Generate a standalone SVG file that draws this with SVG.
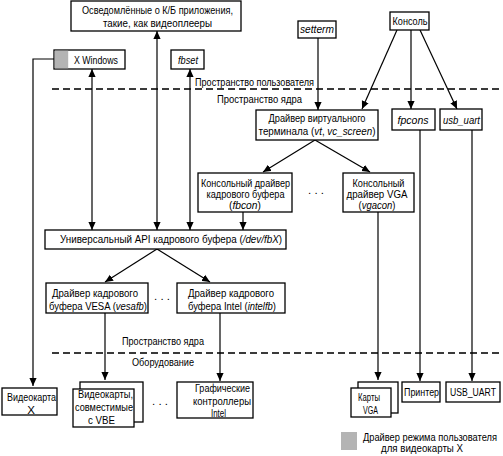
<svg xmlns="http://www.w3.org/2000/svg" width="503" height="456" viewBox="0 0 503 456">
<defs>
<marker id="ah" viewBox="0 0 10 10" refX="10" refY="5" markerWidth="8" markerHeight="8" orient="auto-start-reverse" markerUnits="userSpaceOnUse"><path d="M0,0.5 L10,5 L0,9.5 z" fill="#000"/></marker>
<style>
text{font-family:"Liberation Sans",Arial,sans-serif;font-size:11.5px;fill:#000;text-anchor:middle}
.i{font-style:italic}
.l{text-anchor:start}
.b{fill:#fff;stroke:#000;stroke-width:1.3}
.c line,.c polyline{stroke:#000;stroke-width:1.2;fill:none}
.a{marker-end:url(#ah)}
.d{marker-start:url(#ah);marker-end:url(#ah)}
.dash{stroke:#3a3a3a;stroke-width:2;stroke-dasharray:7 4}
</style>
</defs>
<rect width="503" height="456" fill="#fff"/>
<line class="dash" x1="52" y1="89" x2="501" y2="89"/>
<line class="dash" x1="52" y1="353" x2="501" y2="353"/>
<text class="l" x="195" y="86" textLength="119" lengthAdjust="spacingAndGlyphs">Пространство пользователя</text>
<text class="l" x="217" y="103" textLength="85" lengthAdjust="spacingAndGlyphs">Пространство ядра</text>
<text x="163" y="345" textLength="82" lengthAdjust="spacingAndGlyphs">Пространство ядра</text>
<text x="163" y="366" textLength="62" lengthAdjust="spacingAndGlyphs">Оборудование</text>
<g class="c">
<line class="d" x1="92" y1="69" x2="92" y2="230"/>
<line class="d" x1="157" y1="31" x2="157" y2="230"/>
<line class="d" x1="190" y1="69" x2="190" y2="230"/>
<line class="a" x1="318" y1="38" x2="318" y2="110"/>
<line class="a" x1="397" y1="30" x2="362" y2="109"/>
<line class="a" x1="411" y1="30" x2="411" y2="109"/>
<line class="a" x1="420" y1="30" x2="457" y2="109"/>
<line class="a" x1="315" y1="140" x2="263" y2="172"/>
<line class="a" x1="315" y1="140" x2="370" y2="172"/>
<line class="a" x1="243" y1="212" x2="243" y2="230"/>
<line class="a" x1="157" y1="249" x2="105" y2="282"/>
<line class="a" x1="157" y1="249" x2="210" y2="282"/>
<line class="a" x1="105" y1="313" x2="105" y2="380"/>
<line class="a" x1="220" y1="313" x2="220" y2="381"/>
<polyline class="a" points="54,59 33,59 33,386"/>
<line class="a" x1="378" y1="212" x2="378" y2="380"/>
<line class="a" x1="420" y1="130" x2="420" y2="381"/>
<line class="a" x1="472" y1="130" x2="472" y2="381"/>
</g>
<g id="apps"><rect class="b" x="71" y="1" width="170" height="30"/><text x="157.5" y="14" textLength="151" lengthAdjust="spacingAndGlyphs">Осведомлённые о К/Б приложения,</text><text x="157.5" y="27" textLength="109" lengthAdjust="spacingAndGlyphs">такие, как видеоплееры</text></g>
<g id="xwindows"><rect class="b" x="54" y="50" width="71" height="19"/><rect x="54.7" y="50.7" width="13.5" height="17.6" fill="#b4b4b4"/><text x="96" y="64" textLength="44" lengthAdjust="spacingAndGlyphs">X Windows</text></g>
<g id="fbset"><rect class="b" x="171" y="50" width="33" height="19"/><text class="i" x="188" y="64" textLength="20" lengthAdjust="spacingAndGlyphs">fbset</text></g>
<g id="setterm"><rect class="b" x="298" y="21" width="38" height="17"/><text class="i" x="317" y="33" textLength="34" lengthAdjust="spacingAndGlyphs">setterm</text></g>
<g id="console"><rect class="b" x="390" y="12" width="39" height="18"/><text x="410" y="25" textLength="35" lengthAdjust="spacingAndGlyphs">Консоль</text></g>
<g id="vt"><rect class="b" x="256" y="110" width="122" height="30"/><text x="317" y="122" textLength="97" lengthAdjust="spacingAndGlyphs">Драйвер виртуального</text><text x="317" y="135" textLength="117" lengthAdjust="spacingAndGlyphs">терминала (<tspan class="i">vt</tspan>, <tspan class="i">vc_screen</tspan>)</text></g>
<g id="fpcons"><rect class="b" x="392" y="109" width="43" height="21"/><text class="i" x="413" y="124" textLength="31" lengthAdjust="spacingAndGlyphs">fpcons</text></g>
<g id="usbuart"><rect class="b" x="440" y="109" width="42" height="21"/><text class="i" x="461.5" y="124" textLength="37" lengthAdjust="spacingAndGlyphs">usb_uart</text></g>
<g id="fbcon"><rect class="b" x="198" y="173" width="94" height="39"/><text x="245.5" y="187" textLength="89" lengthAdjust="spacingAndGlyphs">Консольный драйвер</text><text x="245.5" y="198" textLength="78" lengthAdjust="spacingAndGlyphs">кадрового буфера</text><text x="245" y="209" textLength="32" lengthAdjust="spacingAndGlyphs">(<tspan class="i">fbcon</tspan>)</text></g>
<text x="316" y="194">. . .</text>
<g id="vgacon"><rect class="b" x="343" y="173" width="71" height="39"/><text x="378.5" y="187" textLength="52" lengthAdjust="spacingAndGlyphs">Консольный</text><text x="377" y="198" textLength="61" lengthAdjust="spacingAndGlyphs">драйвер VGA</text><text x="377" y="209" textLength="37" lengthAdjust="spacingAndGlyphs">(<tspan class="i">vgacon</tspan>)</text></g>
<g id="api"><rect class="b" x="45" y="230" width="241" height="19"/><text x="171" y="243" textLength="222" lengthAdjust="spacingAndGlyphs">Универсальный API кадрового буфера (<tspan class="i">/dev/fbX</tspan>)</text></g>
<g id="vesafb"><rect class="b" x="46" y="283" width="102" height="30"/><text x="95" y="297" textLength="86" lengthAdjust="spacingAndGlyphs">Драйвер кадрового</text><text x="98" y="310" textLength="98" lengthAdjust="spacingAndGlyphs">буфера VESA (<tspan class="i">vesafb</tspan>)</text></g>
<text x="162" y="300">. . .</text>
<g id="intelfb"><rect class="b" x="177" y="283" width="108" height="30"/><text x="231" y="297" textLength="86" lengthAdjust="spacingAndGlyphs">Драйвер кадрового</text><text x="232" y="310" textLength="88" lengthAdjust="spacingAndGlyphs">буфера Intel (<tspan class="i">intelfb</tspan>)</text></g>
<g id="vcardx"><rect class="b" x="2" y="388" width="55" height="27"/><text x="31.5" y="401" textLength="49" lengthAdjust="spacingAndGlyphs">Видеокарта</text><text x="31" y="414">X</text></g>
<g id="vbe"><rect class="b" x="80" y="382" width="63" height="40"/><rect class="b" x="73" y="389" width="61" height="38"/><text x="105.5" y="398" textLength="55" lengthAdjust="spacingAndGlyphs">Видеокарты,</text><text x="104" y="411" textLength="58" lengthAdjust="spacingAndGlyphs">совместимые</text><text x="101.5" y="424" textLength="27" lengthAdjust="spacingAndGlyphs">с VBE</text></g>
<text x="160" y="405">. . .</text>
<g id="intelgfx"><rect class="b" x="177" y="382" width="76" height="36"/><text x="222.5" y="392" textLength="55" lengthAdjust="spacingAndGlyphs">Графические</text><text x="222" y="405" textLength="58" lengthAdjust="spacingAndGlyphs">контроллеры</text><text x="218.5" y="417" textLength="15" lengthAdjust="spacingAndGlyphs">Intel</text></g>
<g id="vga"><rect class="b" x="358" y="382" width="40" height="31"/><rect class="b" x="351" y="388" width="40" height="29"/><text x="369" y="401" textLength="22" lengthAdjust="spacingAndGlyphs">Карты</text><text x="370.5" y="414" textLength="15" lengthAdjust="spacingAndGlyphs">VGA</text></g>
<g id="printer"><rect class="b" x="402" y="382" width="38" height="20"/><text x="421.5" y="396" textLength="35" lengthAdjust="spacingAndGlyphs">Принтер</text></g>
<g id="usbuartdev"><rect class="b" x="446" y="382" width="54" height="20"/><text x="473" y="396" textLength="46" lengthAdjust="spacingAndGlyphs">USB_UART</text></g>
<g id="legend"><rect x="341" y="432" width="16" height="18" fill="#b4b4b4"/><text class="l" x="363" y="441" textLength="134" lengthAdjust="spacingAndGlyphs">Драйвер режима пользователя</text><text x="422" y="452" textLength="82" lengthAdjust="spacingAndGlyphs">для видеокарты X</text></g>
</svg>
